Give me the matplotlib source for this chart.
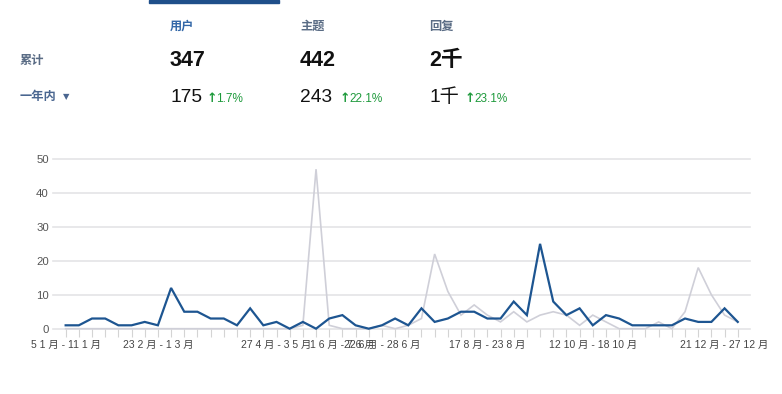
import matplotlib
matplotlib.use("Agg")
import matplotlib.pyplot as plt
from matplotlib.patches import Rectangle

# ---- data ----
users_this_year = [1, 1, 3, 3, 1, 1, 2, 1, 12, 5, 5, 3, 3, 1, 6, 1, 2, 0, 2, 0,
                   3, 4, 1, 0, 1, 3, 1, 6, 2, 3, 5, 5, 3, 3, 8, 4, 25, 8, 4, 6,
                   1, 4, 3, 1, 1, 1, 1, 3, 2, 2, 6, 2]
users_prev_year = [0, 0, 0, 0, 0, 0, 0, 0, 0, 0, 0, 0, 0, 0, 0, 0, 0, 0, 1, 47,
                   1, 0, 0, 0, 1, 0, 1, 3, 22, 11, 4, 7, 4, 2, 5, 2, 4, 5, 4, 1,
                   4, 2, 0, 0, 0, 2, 0, 5, 18, 10, 4, 2]
tick_index = [0, 7, 16, 21, 24, 32, 40, 50]
tick_text = ["5 1 月 - 11 1 月", "23 2 月 - 1 3 月", "27 4 月 - 3 5 月",
             "1 6 月 - 7 6 月", "22 6 月 - 28 6 月", "17 8 月 - 23 8 月",
             "12 10 月 - 18 10 月", "21 12 月 - 27 12 月"]
y_ticks = [0, 10, 20, 30, 40, 50]

col_headers = ["用户", "主题", "回复"]
totals = ["347", "442", "2千"]
year_values = ["175", "243", "1千"]
changes = ["1.7%", "22.1%", "23.1%"]

FONT = ["Liberation Sans", "Noto Sans CJK SC", "DejaVu Sans"]
plt.rcParams["font.family"] = FONT

W, H = 782, 394
fig = plt.figure(figsize=(W / 100, H / 100), dpi=100)


def fx(px):
    return px / W


def fy(py):
    return 1 - py / H


# ---- header ----
fig.patches.append(Rectangle((fx(149), fy(3)), fx(279) - fx(149), 3 / H,
                             transform=fig.transFigure, color="#1f4f8a", zorder=5))

col_x = [170, 300, 429.5]
arrow_x = [207, 339.5, 465]
for i in range(3):
    fig.text(fx(col_x[i]), fy(27), col_headers[i], fontsize=8.8, fontweight="bold",
             color="#3468a8" if i == 0 else "#5a6c85", va="center", ha="left")
    fig.text(fx(col_x[i]), fy(66), totals[i], fontsize=15.5, fontweight="bold",
             color="#111111", va="baseline", ha="left")
    fig.text(fx(col_x[i]), fy(101.5), year_values[i], fontsize=13.8,
             color="#111111", va="baseline", ha="left")
    fig.text(fx(arrow_x[i]), fy(101.5), "↑", fontsize=9, fontweight="bold",
             family=["DejaVu Sans"], color="#1e9a3c", va="baseline", ha="left")
    fig.text(fx(arrow_x[i] + 9.5), fy(101.5), changes[i], fontsize=8.5,
             color="#1e9a3c", va="baseline", ha="left")

fig.text(fx(19.5), fy(61), "累计", fontsize=8.8, fontweight="bold",
         color="#5a6c85", va="center", ha="left")
fig.text(fx(19.5), fy(97), "一年内", fontsize=8.8, fontweight="bold",
         color="#4a6690", va="center", ha="left")
fig.text(fx(62.5), fy(96.5), "▼", fontsize=6, family=["DejaVu Sans"],
         color="#4a6690", va="center", ha="left")

# ---- chart ----
left, right, top, bottom = 53, 750, 159, 328.7
ax = fig.add_axes([fx(left), fy(bottom), fx(right) - fx(left), (bottom - top) / H])
x = list(range(len(users_this_year)))
ax.plot(x, users_prev_year, color="#cfcfd8", lw=1.2, zorder=3, clip_on=False,
        solid_joinstyle="miter")
ax.plot(x, users_this_year, color="#1d5591", lw=1.6, zorder=4, clip_on=False,
        solid_joinstyle="miter")

ax.set_xlim(-0.96, 51.93)
ax.set_ylim(0, 50)
ax.set_yticks(y_ticks)
ax.set_yticklabels([str(v) for v in y_ticks], fontsize=8.2, color="#555555")
ax.tick_params(axis="y", length=0, pad=3)
labels = [""] * len(x)
for i, t in zip(tick_index, tick_text):
    labels[i] = t
ax.set_xticks(x)
ax.set_xticklabels(labels, fontsize=7.5, color="#444444")
ax.tick_params(axis="x", length=5.5, width=0.8, color="#d4d4d4", pad=2.5)
for s in ax.spines.values():
    s.set_visible(False)
for v in y_ticks:
    ax.axhline(v, color="#e4e4e6", lw=1.2, zorder=1, clip_on=False)

fig.savefig("out.png", dpi=100)
